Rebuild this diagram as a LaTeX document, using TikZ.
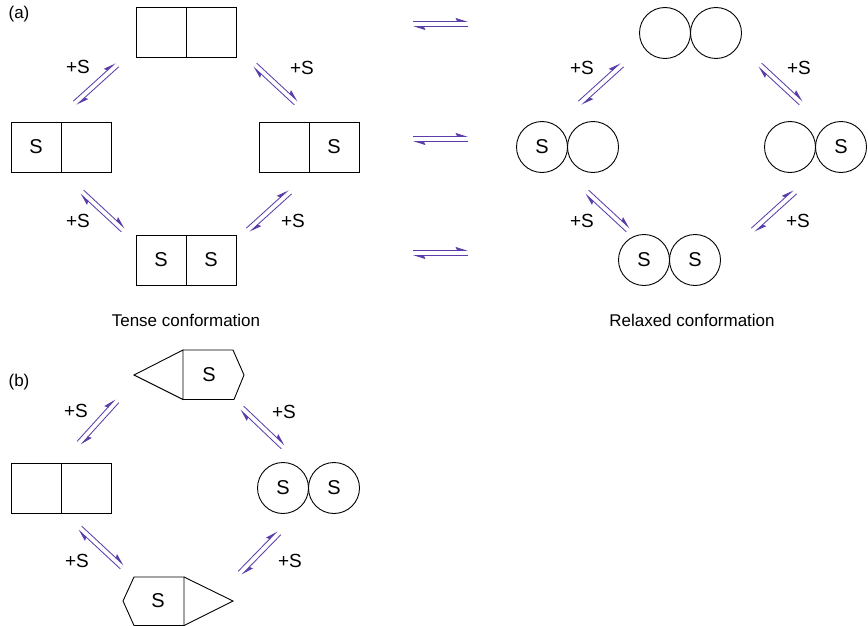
\documentclass[tikz,border=0pt]{standalone}
\usepackage{fontspec}
\setmainfont{Liberation Sans}
\usetikzlibrary{arrows.meta,calc}
\definecolor{eqcol}{RGB}{92,62,170}
\tikzset{
  sq/.style={draw=black,line width=0.9pt,minimum width=50pt,minimum height=50pt,inner sep=0,font=\fontsize{20}{24}\selectfont},
  ci/.style={draw=black,line width=0.9pt,circle,minimum size=51pt,inner sep=0,font=\fontsize{20}{24}\selectfont},
  shp/.style={draw=black,line width=0.9pt,line join=miter},
  lab/.style={font=\fontsize{19}{22}\selectfont,inner sep=0},
  shptext/.style={font=\fontsize{20}{24}\selectfont,inner sep=0},
  capt/.style={font=\fontsize{17}{20}\selectfont,inner sep=0},
  harp/.style={draw=eqcol,line width=0.85pt,-{Stealth[harpoon,length=11pt,width=7pt,inset=1.5pt]}},
}
\newcommand\eqpair[2]{%
  \draw[harp] ($(#1)!2.5pt!90:(#2)$) -- ($(#2)!2.5pt!-90:(#1)$);
  \draw[harp] ($(#2)!2.5pt!90:(#1)$) -- ($(#1)!2.5pt!-90:(#2)$);
}
\begin{document}
\begin{tikzpicture}[x=1pt,y=-1pt]
\useasboundingbox (0,0) rectangle (868,626);
% labels
\node[capt] (la) at (19,14) {(a)};
\node[capt] (lb) at (19,382) {(b)};
\node[capt] (tense) at (186,320) {Tense conformation};
\node[capt] (relax) at (692,320) {Relaxed conformation};
% (a) tense
\node[sq] (t1a) at (161,32) {};
\node[sq] (t1b) at (211,32) {};
\node[sq] (t2a) at (36,147) {S};
\node[sq] (t2b) at (86,147) {};
\node[sq] (t3a) at (284,147) {};
\node[sq] (t3b) at (334,147) {S};
\node[sq] (t4a) at (161,260) {S};
\node[sq] (t4b) at (211,260) {S};
% (a) relaxed
\node[ci] (r1a) at (665,33) {};
\node[ci] (r1b) at (716,33) {};
\node[ci] (r2a) at (542,147) {S};
\node[ci] (r2b) at (593,147) {};
\node[ci] (r3a) at (790,147) {};
\node[ci] (r3b) at (841,147) {S};
\node[ci] (r4a) at (644,260) {S};
\node[ci] (r4b) at (695,260) {S};
% horizontal equilibria
\coordinate (h1a) at (413,24); \coordinate (h1b) at (468,24);
\coordinate (h2a) at (413,139); \coordinate (h2b) at (468,139);
\coordinate (h3a) at (413,253); \coordinate (h3b) at (468,253);
\eqpair{h1a}{h1b}
\eqpair{h2a}{h2b}
\eqpair{h3a}{h3b}
% tense diagonals
\coordinate (d1a) at (75,103); \coordinate (d1b) at (117,65);
\coordinate (d2a) at (255,65); \coordinate (d2b) at (296,103);
\coordinate (d3a) at (82,192); \coordinate (d3b) at (123,230);
\coordinate (d4a) at (248,230); \coordinate (d4b) at (290,192);
\eqpair{d1a}{d1b} \eqpair{d2a}{d2b} \eqpair{d3a}{d3b} \eqpair{d4a}{d4b}
\node[lab] (s1) at (78,67) {+S};
\node[lab] (s2) at (302,68) {+S};
\node[lab] (s3) at (78,221) {+S};
\node[lab] (s4) at (293,221) {+S};
% relaxed diagonals
\coordinate (e1a) at (580,103); \coordinate (e1b) at (622,65);
\coordinate (e2a) at (760,65); \coordinate (e2b) at (801,103);
\coordinate (e3a) at (587,192); \coordinate (e3b) at (628,230);
\coordinate (e4a) at (753,230); \coordinate (e4b) at (795,192);
\eqpair{e1a}{e1b} \eqpair{e2a}{e2b} \eqpair{e3a}{e3b} \eqpair{e4a}{e4b}
\node[lab] (s5) at (582,68) {+S};
\node[lab] (s6) at (799,68) {+S};
\node[lab] (s7) at (582,221) {+S};
\node[lab] (s8) at (798,221) {+S};
% (b) shapes
\draw[shp] (183,350) -- (134,375) -- (183,399.5) -- cycle;
\draw[shp] (183,350) -- (233,350) -- (244,375) -- (234,399.5) -- (183,399.5);
\node[shptext] (bs1) at (209,375) {S};
\node[sq] (b2a) at (36,488) {};
\node[sq] (b2b) at (86,488) {};
\node[ci] (b3a) at (283,488) {S};
\node[ci] (b3b) at (334,488) {S};
\draw[shp] (184,577) -- (134,577) -- (123,601) -- (134,625.5) -- (184,625.5) -- cycle;
\draw[shp] (184,577) -- (233,601) -- (184,625.5);
\node[shptext] (bs4) at (158,601) {S};
% (b) diagonals
\coordinate (f1a) at (79,443); \coordinate (f1b) at (117,401);
\coordinate (f2a) at (242,408); \coordinate (f2b) at (283,447);
\coordinate (f3a) at (80,528); \coordinate (f3b) at (122,567);
\coordinate (f4a) at (240,573); \coordinate (f4b) at (279,533);
\eqpair{f1a}{f1b} \eqpair{f2a}{f2b} \eqpair{f3a}{f3b} \eqpair{f4a}{f4b}
\node[lab] (s9) at (76,411) {+S};
\node[lab] (s10) at (284,412) {+S};
\node[lab] (s11) at (77,561) {+S};
\node[lab] (s12) at (290,561) {+S};
\end{tikzpicture}
\end{document}
